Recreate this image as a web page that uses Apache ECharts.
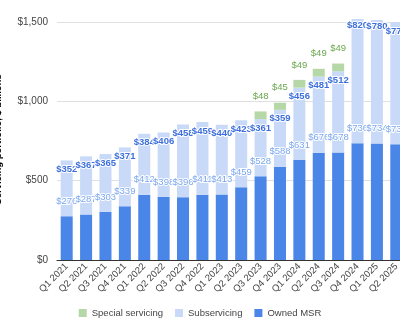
<!DOCTYPE html>
<html>
<head>
<meta charset="utf-8">
<script src="https://cdn.jsdelivr.net/npm/echarts@6/dist/echarts.min.js"></script>
<style>html,body{margin:0;padding:0;background:#fff}#c{width:400px;height:334px}</style>
</head>
<body>
<div id="c"></div>
<script>
const categories = ["Q1 2021","Q2 2021","Q3 2021","Q4 2021","Q1 2022","Q2 2022","Q3 2022","Q4 2022","Q1 2023","Q2 2023","Q3 2023","Q4 2023","Q1 2024","Q2 2024","Q3 2024","Q4 2024","Q1 2025","Q2 2025"];
const ownedMSR = [276,287,303,339,412,398,396,411,413,459,528,588,631,676,678,736,734,730];
const subservicing = [352,367,365,371,384,406,458,459,440,423,361,359,456,481,512,820,780,770];
const specialServicing = [null,null,null,null,null,null,null,null,null,null,48,45,49,49,49,null,null,null];
const yTicks = [0,500,1000,1500];

const FONT = "'Liberation Sans', Arial, sans-serif";
const AXMAX = 1520;
const fmt = v => '$' + v.toLocaleString('en-US');

const subData = subservicing.map((v, i) => {
  const total = v + ownedMSR[i];
  return total > AXMAX - 10 ? {value: v, label: {distance: 1}} : v;
});

const chart = echarts.init(document.getElementById('c'), null, {renderer: 'canvas'});
chart.setOption({
  animation: false,
  textStyle: {fontFamily: FONT},
  grid: {left: 57, right: -6, top: 19, bottom: 74, outerBoundsMode: 'none', containLabel: false},
  legend: {
    data: ['Special servicing', 'Subservicing', 'Owned MSR'],
    bottom: 11, left: 'center',
    icon: 'rect', itemWidth: 8, itemHeight: 8, itemGap: 12,
    textStyle: {fontSize: 9.5, color: '#444', fontFamily: FONT}
  },
  xAxis: {
    type: 'category', data: categories,
    axisTick: {show: false},
    axisLine: {lineStyle: {color: '#333'}},
    axisLabel: {rotate: 45, fontSize: 9.5, color: '#444', margin: 5, interval: 0, fontFamily: FONT}
  },
  yAxis: {
    type: 'value', min: 0, max: AXMAX, interval: 500,
    name: 'Servicing portfolio, $ billions', nameLocation: 'middle', nameGap: 54,
    nameTextStyle: {fontSize: 9.5, fontWeight: 'bold', color: '#000', fontFamily: FONT},
    axisLabel: {fontSize: 10, color: '#444', margin: 9, showMaxLabel: false,
      formatter: v => yTicks.indexOf(v) >= 0 ? fmt(v) : '', fontFamily: FONT},
    splitLine: {lineStyle: {color: '#e0e0e0'}, showMaxLine: false},
    axisLine: {show: false}, axisTick: {show: false}
  },
  series: [
    {
      name: 'Owned MSR', type: 'bar', stack: 's', barWidth: '62%',
      data: ownedMSR, itemStyle: {color: '#4a86e8'},
      label: {show: true, position: 'top', distance: 10, formatter: p => fmt(p.value),
        fontSize: 9.5, color: '#7aa6ee', textBorderColor: '#fff', textBorderWidth: 2, fontFamily: FONT}
    },
    {
      name: 'Subservicing', type: 'bar', stack: 's',
      data: subData, itemStyle: {color: '#c9daf8'},
      label: {show: true, position: 'insideTop', distance: 4, formatter: p => fmt(p.value),
        fontSize: 9.5, fontWeight: 'bold', color: '#3d6fdc', textBorderColor: '#fff', textBorderWidth: 2, fontFamily: FONT}
    },
    {
      name: 'Special servicing', type: 'bar', stack: 's',
      data: specialServicing, itemStyle: {color: '#b6d7a8'},
      label: {show: true, position: 'top', distance: 10, formatter: p => p.value == null ? '' : fmt(p.value),
        fontSize: 9.5, color: '#6aa84f', textBorderColor: '#fff', textBorderWidth: 2, fontFamily: FONT}
    }
  ]
});
</script>
</body>
</html>
